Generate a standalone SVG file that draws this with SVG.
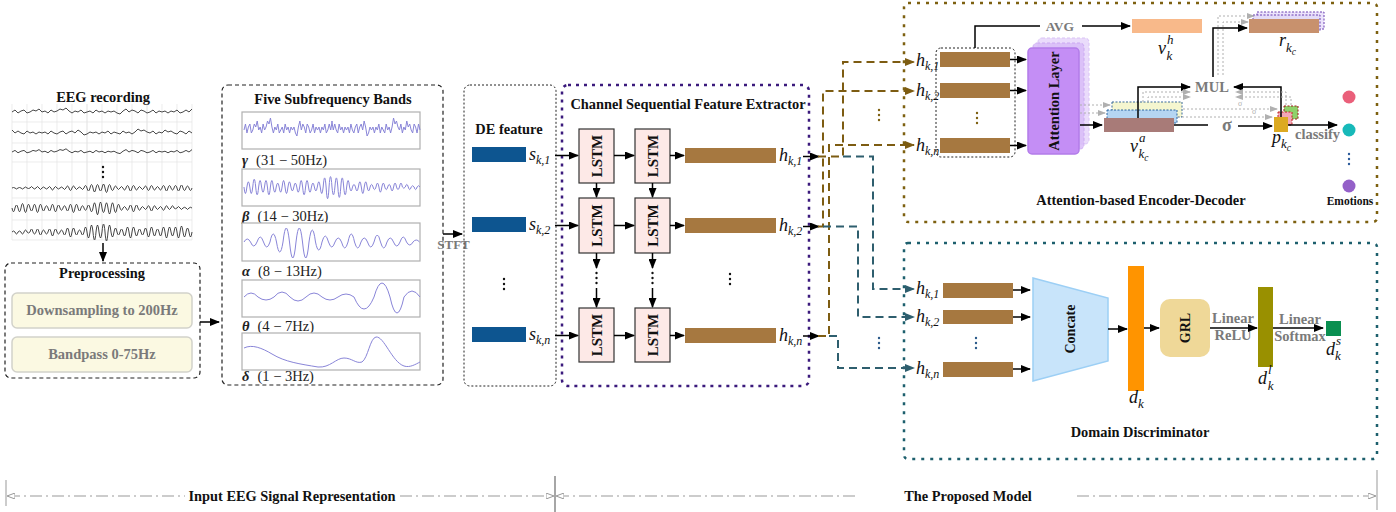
<svg xmlns="http://www.w3.org/2000/svg" width="1396" height="512" viewBox="0 0 1396 512">
<style>
text{font-family:"Liberation Serif","Times New Roman",serif}
.b{font-weight:bold;font-size:14.4px;fill:#111}
.gr{font-weight:bold;font-size:14.5px;fill:#7a7a7a}
.mi{font-style:italic;font-size:18px;fill:#111}
.sub{font-size:12px}
.sm{font-size:13px}
.xs{font-size:9.5px}
.bl{font-size:14.5px;fill:#222}
.ln{fill:none;stroke:#000;stroke-width:1.5}
.eeg{fill:none;stroke:#333;stroke-width:0.9}
.band{fill:none;stroke:#8985d8;stroke-width:1}
.bbox{fill:#fff;stroke:#b0b0b0;stroke-width:1.2}
.lstm{fill:#fde9e7;stroke:#333;stroke-width:1.2}
.lt{font-weight:bold;font-size:15px;fill:#111}
.bar{fill:#a67840}
.de{fill:#0d5590}
.brn{fill:none;stroke:#7d5c12;stroke-width:2;stroke-dasharray:8,5}
.tl{fill:none;stroke:#2e5e6e;stroke-width:2;stroke-dasharray:8,5}
.gh{fill:none;stroke:#b0b0b0;stroke-width:1;stroke-dasharray:2,2}
.ax{fill:none;stroke:#999;stroke-width:1;stroke-dasharray:12,4,2,4}
.grid{stroke:#e4e4e4;stroke-width:0.7}
</style>
<defs>
<marker id="ab" viewBox="0 0 10 8" refX="9" refY="4" markerWidth="10" markerHeight="8" markerUnits="userSpaceOnUse" orient="auto"><path d="M0,0 L10,4 L0,8 z" fill="#000"/></marker>
<marker id="abn" viewBox="0 0 10 8" refX="9" refY="4" markerWidth="10" markerHeight="8" markerUnits="userSpaceOnUse" orient="auto"><path d="M0,0 L10,4 L0,8 z" fill="#7d5c12"/></marker>
<marker id="atl" viewBox="0 0 10 8" refX="9" refY="4" markerWidth="10" markerHeight="8" markerUnits="userSpaceOnUse" orient="auto"><path d="M0,0 L10,4 L0,8 z" fill="#2e5e6e"/></marker>
<marker id="agh" viewBox="0 0 8 6" refX="7" refY="3" markerWidth="8" markerHeight="6" markerUnits="userSpaceOnUse" orient="auto"><path d="M0,0 L8,3 L0,6 z" fill="#b0b0b0"/></marker>
<marker id="aax" viewBox="0 0 8 6" refX="7" refY="3" markerWidth="8" markerHeight="6" markerUnits="userSpaceOnUse" orient="auto-start-reverse"><path d="M0,0 L8,3 L0,6 z" fill="#fff" stroke="#999"/></marker>
<path id="jit" vector-effect="non-scaling-stroke" d="M0,0 l3,-2 3,3 3,-2 3,-1 3,3 3,-1 3,-2 3,1 3,-2 3,3 3,-1 3,2 3,-3 3,2 3,-1 3,-2 3,1 3,-2 3,3 3,2 3,-2 3,1 3,-2 3,3 3,-1 3,-1 3,2 3,-3 3,2 3,-1 3,2 3,-2 3,1 3,-1 3,2 3,1 3,-3 3,-2 3,3 3,-2 3,1 3,2 3,-3 3,1 3,2 3,-1 3,-2 3,3 3,-2 3,1 3,-1 3,2 3,-2 3,1 3,-2 3,3 3,-1 3,-2 3,2 3,-3"/>
<path id="wav" vector-effect="non-scaling-stroke" d="M0,0 q1.5,-2 3,0 q1.5,4 3,0 q1.5,-2 3,0 q1.5,4 3,0 q1.5,-4 3,0 q1.5,2 3,0 q1.5,-6 3,0 q1.5,4 3,0 q1.5,-6 3,0 q1.5,6 3,0 q1.5,-4 3,0 q1.5,4 3,0 q1.5,-6 3,0 q1.5,8 3,0 q1.5,-6 3,0 q1.5,4 3,0 q1.5,-4 3,0 q1.5,6 3,0 q1.5,-8 3,0 q1.5,10 3,0 q1.5,-8 3,0 q1.5,6 3,0 q1.5,-4 3,0 q1.5,6 3,0 q1.5,-10 3,0 q1.5,12 3,0 q1.5,-14 3,0 q1.5,16 3,0 q1.5,-14 3,0 q1.5,12 3,0 q1.5,-16 3,0 q1.5,18 3,0 q1.5,-14 3,0 q1.5,10 3,0 q1.5,-8 3,0 q1.5,6 3,0 q1.5,-6 3,0 q1.5,8 3,0 q1.5,-10 3,0 q1.5,12 3,0 q1.5,-10 3,0 q1.5,8 3,0 q1.5,-6 3,0 q1.5,6 3,0 q1.5,-8 3,0 q1.5,10 3,0 q1.5,-10 3,0 q1.5,8 3,0 q1.5,-6 3,0 q1.5,8 3,0 q1.5,-10 3,0 q1.5,12 3,0 q1.5,-10 3,0 q1.5,8 3,0 q1.5,-10 3,0 q1.5,12 3,0 q1.5,-12 3,0 q1.5,10 3,0 q1.5,-8 3,0 q1.5,10 3,0"/>
<g id="vd"><circle cx="0" cy="0" r="1.2" fill="currentColor"/><circle cx="0" cy="5" r="1.2" fill="currentColor"/><circle cx="0" cy="10" r="1.2" fill="currentColor"/></g>
</defs>

<!-- EEG recording -->
<g id="eeg">
<text class="b" x="103" y="102" text-anchor="middle">EEG recording</text>
<g class="grid">
<line x1="12" y1="104" x2="12" y2="240"/><line x1="27" y1="104" x2="27" y2="240"/><line x1="42" y1="104" x2="42" y2="240"/><line x1="57" y1="104" x2="57" y2="240"/><line x1="72" y1="104" x2="72" y2="240"/><line x1="87" y1="104" x2="87" y2="240" stroke="#d4d4d4"/><line x1="102" y1="104" x2="102" y2="240"/><line x1="117" y1="104" x2="117" y2="240"/><line x1="132" y1="104" x2="132" y2="240"/><line x1="147" y1="104" x2="147" y2="240" stroke="#d4d4d4"/><line x1="162" y1="104" x2="162" y2="240"/><line x1="177" y1="104" x2="177" y2="240"/><line x1="192" y1="104" x2="192" y2="240"/>
<line x1="12" y1="122" x2="192" y2="122"/><line x1="12" y1="143" x2="192" y2="143"/><line x1="12" y1="162" x2="192" y2="162"/><line x1="12" y1="198" x2="192" y2="198"/><line x1="12" y1="220" x2="192" y2="220"/><line x1="12" y1="240" x2="192" y2="240"/>
</g>
<use href="#jit" class="eeg" transform="translate(12,112)"/>
<use href="#jit" class="eeg" transform="translate(192,133) scale(-1,1)"/>
<use href="#jit" class="eeg" transform="translate(12,152) scale(1,0.8)"/>
<use href="#vd" x="103" y="167" color="#111"/>
<use href="#wav" class="eeg" transform="translate(12,188) scale(1,0.5)"/>
<use href="#wav" class="eeg" transform="translate(192,208) scale(-1,0.75)"/>
<use href="#wav" class="eeg" transform="translate(12,232) scale(1,1)"/>
</g>

<!-- Preprocessing -->
<g id="preprocessing">
<rect x="5" y="263" width="195" height="115" rx="6" fill="none" stroke="#222" stroke-width="1.2" stroke-dasharray="4,3"/>
<text class="b" x="102" y="278" text-anchor="middle">Preprocessing</text>
<rect x="12" y="293" width="180" height="35" rx="5" fill="#fbf9e2" stroke="#d2d2ca" stroke-width="1.5"/>
<text class="gr" x="102" y="315" text-anchor="middle">Downsampling to 200Hz</text>
<rect x="12" y="337" width="180" height="35" rx="5" fill="#fbf9e2" stroke="#d2d2ca" stroke-width="1.5"/>
<text class="gr" x="102" y="359" text-anchor="middle">Bandpass 0-75Hz</text>
</g>

<!-- Five Subfrequency Bands -->
<g id="bands">
<rect x="222" y="85" width="221" height="300" rx="6" fill="none" stroke="#222" stroke-width="1.2" stroke-dasharray="4,3"/>
<text class="b" x="333" y="104" text-anchor="middle">Five Subfrequency Bands</text>
<rect class="bbox" x="242" y="112" width="178" height="37"/>
<use href="#jit" class="band" transform="translate(244,130) scale(0.49,3)"/>
<use href="#jit" class="band" transform="translate(420,130) scale(-0.49,3)"/>
<text class="bl" x="242" y="165"><tspan font-style="italic" font-weight="bold">γ</tspan><tspan dx="8">(31 − 50Hz)</tspan></text>
<rect class="bbox" x="242" y="169" width="178" height="37"/>
<use href="#wav" class="band" transform="translate(420,187) scale(-0.978,1.3)"/>
<text class="bl" x="242" y="221"><tspan font-style="italic" font-weight="bold">β</tspan><tspan dx="8">(14 − 30Hz)</tspan></text>
<rect class="bbox" x="242" y="223" width="178" height="38"/>
<path class="band" d="M244,242 q3.25,-6 6.5,0 q3.25,8 6.5,0 q3.25,-10 6.5,0 q3.25,10 6.5,0 q3.25,-16 6.5,0 q3.25,20 6.5,0 q3.25,-28 6.5,0 q3.25,32 6.5,0 q3.25,-28 6.5,0 q3.25,32 6.5,0 q3.25,-24 6.5,0 q3.25,16 6.5,0 q3.25,-12 6.5,0 q3.25,10 6.5,0 q3.25,-8 6.5,0 q3.25,12 6.5,0 q3.25,-16 6.5,0 q3.25,12 6.5,0 q3.25,-8 6.5,0 q3.25,10 6.5,0 q3.25,-14 6.5,0 q3.25,12 6.5,0 q3.25,-8 6.5,0 q3.25,8 6.5,0 q3.25,-10 6.5,0 q3.25,6 6.5,0 q3.25,-4 6.5,0"/>
<text class="bl" x="242" y="276"><tspan font-style="italic" font-weight="bold">α</tspan><tspan dx="8">(8 − 13Hz)</tspan></text>
<rect class="bbox" x="242" y="280" width="178" height="37"/>
<path class="band" d="M244,297 q7,-8 14,0 q8,6 16,0 q8,-10 16,0 q8,8 16,0 q8,-8 16,0 q8,6 16,0 q8,-6 16,0 q10,24 20,0 q8,-28 16,0 q7,32 14,0 q8,-12 16,0"/>
<text class="bl" x="242" y="331"><tspan font-style="italic" font-weight="bold">θ</tspan><tspan dx="8">(4 − 7Hz)</tspan></text>
<rect class="bbox" x="242" y="333" width="178" height="37"/>
<path class="band" d="M244,348 C252,344 262,348 272,354 C285,362 300,364 318,367 C330,368 336,358 344,358 C352,358 356,364 362,362 C368,358 370,338 376,337 C384,336 392,362 404,366 C410,368 416,364 420,362"/>
<text class="bl" x="242" y="381"><tspan font-style="italic" font-weight="bold">δ</tspan><tspan dx="8">(1 − 3Hz)</tspan></text>
</g>

<text class="gr" x="453.5" y="249" text-anchor="middle" style="font-size:13px">STFT</text>

<!-- DE feature -->
<g id="de-feature">
<rect x="464" y="85" width="92" height="301" rx="6" fill="none" stroke="#222" stroke-width="1" stroke-dasharray="2,2"/>
<text class="b" x="509" y="134" text-anchor="middle">DE feature</text>
<rect class="de" x="472" y="147" width="54" height="15"/>
<rect class="de" x="472" y="217" width="54" height="15"/>
<rect class="de" x="472" y="327" width="54" height="15"/>
<use href="#vd" x="504" y="279" color="#111"/>
<text class="mi" x="529" y="160">s<tspan class="sub" dy="4">k,1</tspan></text>
<text class="mi" x="529" y="230">s<tspan class="sub" dy="4">k,2</tspan></text>
<text class="mi" x="529" y="340">s<tspan class="sub" dy="4">k,n</tspan></text>
</g>

<!-- Channel Sequential Feature Extractor -->
<g id="extractor">
<rect x="562" y="85" width="247" height="301" rx="6" fill="none" stroke="#3b1a7c" stroke-width="2.5" stroke-dasharray="3,5"/>
<text class="b" x="688" y="109" text-anchor="middle">Channel Sequential Feature Extractor</text>
</g>
<g id="lstm-1-1"><rect class="lstm" x="579" y="129" width="35" height="54"/><text class="lt" transform="translate(596.5,156) rotate(-90)" text-anchor="middle" dy="5">LSTM</text></g>
<g id="lstm-1-2"><rect class="lstm" x="635" y="129" width="35" height="54"/><text class="lt" transform="translate(652.5,156) rotate(-90)" text-anchor="middle" dy="5">LSTM</text></g>
<g id="lstm-2-1"><rect class="lstm" x="579" y="198" width="35" height="55"/><text class="lt" transform="translate(596.5,225.5) rotate(-90)" text-anchor="middle" dy="5">LSTM</text></g>
<g id="lstm-2-2"><rect class="lstm" x="635" y="198" width="35" height="55"/><text class="lt" transform="translate(652.5,225.5) rotate(-90)" text-anchor="middle" dy="5">LSTM</text></g>
<g id="lstm-n-1"><rect class="lstm" x="579" y="308" width="35" height="54"/><text class="lt" transform="translate(596.5,335) rotate(-90)" text-anchor="middle" dy="5">LSTM</text></g>
<g id="lstm-n-2"><rect class="lstm" x="635" y="308" width="35" height="54"/><text class="lt" transform="translate(652.5,335) rotate(-90)" text-anchor="middle" dy="5">LSTM</text></g>
<g id="hidden-states">
<rect class="bar" x="685" y="148" width="91" height="15"/>
<rect class="bar" x="685" y="218" width="91" height="15"/>
<rect class="bar" x="685" y="328" width="91" height="15"/>
<use href="#vd" x="730" y="274" color="#111"/>
<use href="#vd" x="596.5" y="273" color="#111"/>
<use href="#vd" x="652.5" y="273" color="#111"/>
<text class="mi" x="779" y="161">h<tspan class="sub" dy="4">k,1</tspan></text>
<text class="mi" x="779" y="231">h<tspan class="sub" dy="4">k,2</tspan></text>
<text class="mi" x="779" y="341">h<tspan class="sub" dy="4">k,n</tspan></text>
</g>

<!-- Attention-based Encoder-Decoder -->
<g id="encoder-decoder">
<rect x="904" y="3" width="473" height="219" rx="4" fill="none" stroke="#7d6010" stroke-width="2.5" stroke-dasharray="3,6"/>
<text class="b" x="1141" y="205" text-anchor="middle">Attention-based Encoder-Decoder</text>
<text class="mi" x="916" y="66">h<tspan class="sub" dy="4">k,1</tspan></text>
<text class="mi" x="916" y="96">h<tspan class="sub" dy="4">k,2</tspan></text>
<text class="mi" x="916" y="151">h<tspan class="sub" dy="4">k,n</tspan></text>
<use href="#vd" x="879" y="110" color="#7d6010"/>
</g>
<g id="enc-states">
<rect x="936" y="48" width="79" height="109" rx="5" fill="none" stroke="#222" stroke-width="1" stroke-dasharray="2,2"/>
<rect class="bar" x="940" y="52" width="70" height="15"/>
<rect class="bar" x="940" y="83" width="70" height="15"/>
<rect class="bar" x="940" y="138" width="70" height="15"/>
<use href="#vd" x="977" y="113" color="#7d6010"/>
</g>
<g id="attention-layer">
<rect x="1038" y="38" width="51" height="106" rx="4" fill="#e6d4fb" stroke="#d0b4f4" stroke-dasharray="3,2" opacity="0.8"/>
<rect x="1033" y="43" width="51" height="106" rx="4" fill="#d9bdf8" stroke="#c6a0f2" stroke-dasharray="3,2" opacity="0.85"/>
<rect x="1028" y="48" width="51" height="106" rx="4" fill="#c48ef5" stroke="#b27ce9" stroke-width="1.5"/>
<text class="b" style="font-size:14.5px" transform="translate(1053.5,101) rotate(-90)" text-anchor="middle" dy="5">Attention Layer</text>
</g>
<g id="avg">
<text class="gr" x="1060" y="31" text-anchor="middle" style="font-size:13.5px">AVG</text>
</g>
<g id="vh">
<rect x="1132" y="19" width="70" height="14" fill="#f8b98a"/>
<text class="mi" x="1158" y="54">v<tspan class="sm" dx="1" dy="-10">h</tspan><tspan class="sm" dx="-7" dy="16">k</tspan></text>
</g>
<g id="va">
<rect x="1112" y="102" width="70" height="15" fill="#f5f6cf" stroke="#3a6a9a" stroke-dasharray="2,1.5"/>
<rect x="1107" y="110" width="70" height="13" fill="#b5d5f2" stroke="#2a64a0" stroke-dasharray="2,1.5"/>
<rect x="1104" y="118" width="70" height="14" fill="#a87b78"/>
<text class="mi" x="1130" y="152">v<tspan class="sm" dx="1" dy="-10">a</tspan><tspan class="sm" dx="-7" dy="16">k</tspan><tspan class="xs" dy="3">c</tspan></text>
</g>
<g id="mul"><text class="gr" x="1212" y="92" text-anchor="middle">MUL</text></g>
<g id="sigma"><text class="gr" x="1227" y="131" text-anchor="middle" style="font-size:18px">σ</text></g>
<g id="rkc">
<rect x="1257" y="12" width="67" height="17" fill="#ece4fb" stroke="#6a3fb0" stroke-dasharray="2,1.5"/>
<rect x="1253" y="15" width="67" height="16" fill="#e4dcf8" stroke="#6a3fb0" stroke-dasharray="2,1.5"/>
<rect x="1249" y="19" width="70" height="14" fill="#c8916d"/>
<text class="mi" x="1279" y="46">r<tspan class="sm" dy="6">k</tspan><tspan class="xs" dy="3">c</tspan></text>
</g>
<g id="pkc">
<rect x="1284" y="106" width="14" height="13" fill="#8fd16a" stroke="#a01818" stroke-dasharray="2,1.5"/>
<rect x="1278" y="112" width="14" height="13" fill="#f3a7b5" stroke="#c02020" stroke-dasharray="2,1.5"/>
<rect x="1274" y="117" width="14" height="15" fill="#dcaa22"/>
<text class="mi" x="1272" y="143">p<tspan class="sm" dy="5">k</tspan><tspan class="xs" dy="3">c</tspan></text>
<text class="gr" x="1295" y="139">classify</text>
</g>
<g id="emotions">
<circle cx="1349" cy="97" r="6.5" fill="#ea5f7a"/>
<circle cx="1349" cy="130" r="6.5" fill="#17b9b9"/>
<use href="#vd" x="1349" y="154" color="#2a5a9a"/>
<circle cx="1349" cy="186" r="6.5" fill="#9460c8"/>
<text class="b" style="font-size:11.5px" x="1350" y="205" text-anchor="middle">Emotions</text>
</g>

<!-- Domain Discriminator -->
<g id="domain-discriminator">
<rect x="904" y="243" width="473" height="216" rx="4" fill="none" stroke="#1d5f6d" stroke-width="2.5" stroke-dasharray="3,6"/>
<text class="b" x="1140" y="437" text-anchor="middle">Domain Discriminator</text>
<text class="mi" x="916" y="294">h<tspan class="sub" dy="4">k,1</tspan></text>
<text class="mi" x="916" y="322">h<tspan class="sub" dy="4">k,2</tspan></text>
<text class="mi" x="916" y="374">h<tspan class="sub" dy="4">k,n</tspan></text>
<use href="#vd" x="879" y="338" color="#2a5a8a"/>
</g>
<g id="dom-states">
<rect class="bar" x="943" y="283" width="70" height="15"/>
<rect class="bar" x="943" y="310" width="70" height="14"/>
<rect class="bar" x="943" y="362" width="70" height="15"/>
<use href="#vd" x="976" y="338" color="#2a5a8a"/>
</g>
<g id="concate">
<polygon points="1033,278 1108,298 1108,361 1033,381" fill="#c8e4fa" stroke="#9ccff5" stroke-width="1.5"/>
<text class="b" style="font-size:14px" transform="translate(1070,329) rotate(-90)" text-anchor="middle" dy="5">Concate</text>
</g>
<g id="dk">
<rect x="1128" y="266" width="16" height="125" fill="#ff9400"/>
<text class="mi" x="1129" y="403">d<tspan class="sm" dy="5">k</tspan></text>
</g>
<g id="grl">
<rect x="1160" y="299" width="50" height="58" rx="10" fill="#efd898"/>
<text class="b" style="font-size:14px" transform="translate(1185,328) rotate(-90)" text-anchor="middle" dy="5">GRL</text>
</g>
<g id="dkl">
<rect x="1258" y="287" width="15" height="80" fill="#999000"/>
<text class="mi" x="1258" y="384">d<tspan class="sm" dx="1" dy="-10">l</tspan><tspan class="sm" dx="-4" dy="16">k</tspan></text>
</g>
<g id="dks">
<rect x="1326" y="321" width="15" height="15" fill="#0a8f50"/>
<text class="mi" x="1326" y="355">d<tspan class="sm" dx="1" dy="-10">s</tspan><tspan class="sm" dx="-6" dy="15">k</tspan></text>
</g>
<text class="gr" x="1233" y="323" text-anchor="middle">Linear</text>
<text class="gr" x="1233" y="340" text-anchor="middle">ReLU</text>
<text class="gr" x="1300" y="324" text-anchor="middle">Linear</text>
<text class="gr" x="1300" y="341" text-anchor="middle">Softmax</text>

<!-- Connectors -->
<g id="connectors">
<path class="ln" d="M103,243 V261" marker-end="url(#ab)"/>
<path class="ln" d="M200,322 H219" marker-end="url(#ab)"/>
<path class="ln" d="M443,234 H462" marker-end="url(#ab)"/>
<path class="ln" d="M555,155.5 H578" marker-end="url(#ab)"/>
<path class="ln" d="M555,225.5 H578" marker-end="url(#ab)"/>
<path class="ln" d="M555,335.5 H578" marker-end="url(#ab)"/>
<path class="ln" d="M614,155.5 H634" marker-end="url(#ab)"/>
<path class="ln" d="M614,225.5 H634" marker-end="url(#ab)"/>
<path class="ln" d="M614,335.5 H634" marker-end="url(#ab)"/>
<path class="ln" d="M670,155.5 H684" marker-end="url(#ab)"/>
<path class="ln" d="M670,225.5 H684" marker-end="url(#ab)"/>
<path class="ln" d="M670,335.5 H684" marker-end="url(#ab)"/>
<path class="ln" d="M596.5,183 V197" marker-end="url(#ab)"/>
<path class="ln" d="M652.5,183 V197" marker-end="url(#ab)"/>
<path class="ln" d="M596.5,253 V268" marker-end="url(#ab)"/>
<path class="ln" d="M652.5,253 V268" marker-end="url(#ab)"/>
<path class="ln" d="M596.5,288 V307" marker-end="url(#ab)"/>
<path class="ln" d="M652.5,288 V307" marker-end="url(#ab)"/>
<path class="ln" d="M803,156.5 H819" marker-end="url(#ab)"/>
<path class="ln" d="M803,226.5 H819" marker-end="url(#ab)"/>
<path class="ln" d="M803,336 H819" marker-end="url(#ab)"/>
<path class="brn" d="M818,156.5 H843 V62 H914" marker-end="url(#abn)"/>
<path class="brn" d="M818,226.5 H823 V91 H914" marker-end="url(#abn)"/>
<path class="brn" d="M818,336 H829 V145 H914" marker-end="url(#abn)"/>
<path class="tl" d="M843,156.5 H873 V289 H914" marker-end="url(#atl)"/>
<path class="tl" d="M823,226.5 H858 V317 H914" marker-end="url(#atl)"/>
<path class="tl" d="M829,336 H838 V368 H914" marker-end="url(#atl)"/>
<path class="ln" d="M1010,59.5 H1026" marker-end="url(#ab)"/>
<path class="ln" d="M1010,90.5 H1026" marker-end="url(#ab)"/>
<path class="ln" d="M1010,145.5 H1026" marker-end="url(#ab)"/>
<path class="ln" d="M975,48 V26 H1040"/>
<path class="ln" d="M1082,26 H1130" marker-end="url(#ab)"/>
<path class="ln" d="M1080,125 H1102" marker-end="url(#ab)"/>
<path class="ln" d="M1174,125 H1208"/>
<path class="ln" d="M1238,126 H1272" marker-end="url(#ab)"/>
<path class="ln" d="M1138,118 V87 H1190" marker-end="url(#ab)"/>
<path class="ln" d="M1281,117 V87 H1234" marker-end="url(#ab)"/>
<path class="ln" d="M1213,77 V28 H1247" marker-end="url(#ab)"/>
<path class="ln" d="M1288,125 H1337" marker-end="url(#ab)"/>
<path class="gh" d="M1080,105 H1110" marker-end="url(#agh)"/>
<path class="gh" d="M1080,113 H1105" marker-end="url(#agh)"/>
<path class="gh" d="M1143,102 V92 H1190" marker-end="url(#agh)"/>
<path class="gh" d="M1148,102 V97 H1190" marker-end="url(#agh)"/>
<path class="gh" d="M1183,109 H1277" marker-end="url(#agh)"/>
<path class="gh" d="M1178,117 H1272" marker-end="url(#agh)"/>
<path class="gh" d="M1286,105 V92 H1236" marker-end="url(#agh)"/>
<path class="gh" d="M1291,105 V97 H1236" marker-end="url(#agh)"/>
<path class="gh" d="M1218,75 V16 H1254" marker-end="url(#agh)"/>
<path class="gh" d="M1223,75 V22 H1248" marker-end="url(#agh)"/>
<text x="1238" y="106" font-size="8" fill="#b0b0b0">σ</text>
<text x="1252" y="114" font-size="8" fill="#b0b0b0">σ</text>
<path class="ln" d="M1013,290 H1030" marker-end="url(#ab)"/>
<path class="ln" d="M1013,317 H1030" marker-end="url(#ab)"/>
<path class="ln" d="M1013,369 H1030" marker-end="url(#ab)"/>
<path class="ln" d="M1108,329 H1127" marker-end="url(#ab)"/>
<path class="ln" d="M1144,328 H1159" marker-end="url(#ab)"/>
<path class="ln" d="M1210,328 H1257" marker-end="url(#ab)"/>
<path class="ln" d="M1273,328 H1323" marker-end="url(#ab)"/>
</g>

<!-- Bottom axis -->
<g id="axis">
<line x1="6" y1="480" x2="6" y2="506" stroke="#999" stroke-width="1"/>
<line x1="555" y1="476" x2="555" y2="512" stroke="#888" stroke-width="1.5"/>
<line x1="1377" y1="470" x2="1377" y2="510" stroke="#999" stroke-width="1"/>
<path class="ax" d="M8,496 H185" marker-start="url(#aax)"/>
<path class="ax" d="M400,496 H553" marker-end="url(#aax)"/>
<path class="ax" d="M557,496 H858" marker-start="url(#aax)"/>
<path class="ax" d="M1077,496 H1375" marker-end="url(#aax)"/>
<text class="b" x="292" y="501" text-anchor="middle">Input EEG Signal Representation</text>
<text class="b" x="968" y="501" text-anchor="middle">The Proposed Model</text>
</g>
</svg>
